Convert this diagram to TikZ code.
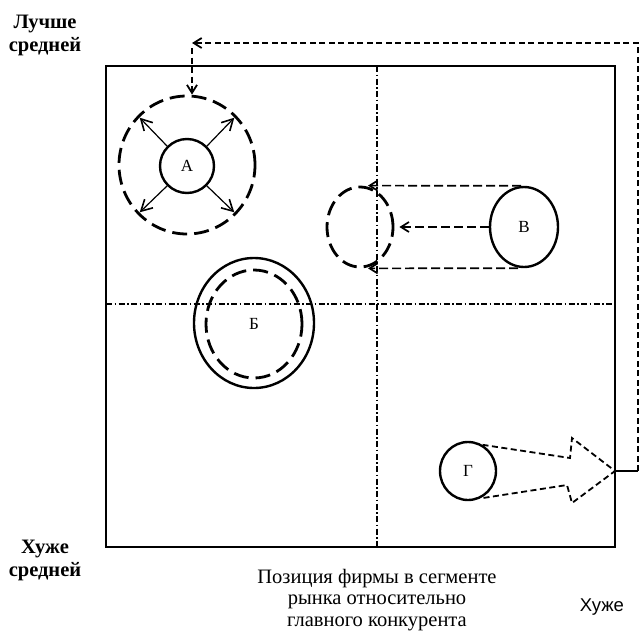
\documentclass[tikz,border=0pt]{standalone}
\usepackage{fontspec}
\setmainfont{Liberation Serif}
\newfontfamily\sansf{Liberation Sans}
\usetikzlibrary{arrows.meta,shapes.geometric}
\begin{document}
\begin{tikzpicture}[x=1pt,y=-1pt,
 frame/.style={line width=2pt},
 axisline/.style={line width=1.2pt, dash pattern=on 6pt off 2.5pt on 1.5pt off 2.5pt},
 solidcirc/.style={draw, line width=2.4pt, ellipse, inner sep=0pt},
 dashcirc/.style={draw, line width=2.8pt, ellipse, inner sep=0pt, dash pattern=on 15pt off 7pt},
 fb/.style={line width=1.8pt, dash pattern=on 6pt off 3.5pt},
 darr/.style={line width=1.7pt, dash pattern=on 9pt off 4pt, -{Straight Barb[length=8pt,width=10pt,line width=1.7pt]}},
 fbarr/.style={fb, -{Straight Barb[length=8pt,width=10pt]}},
 expand/.style={line width=1.2pt, -{Straight Barb[length=11pt,width=12pt,line width=1.6pt]}},
 lbl/.style={font=\fontsize{17}{19}\selectfont},
 corner/.style={font=\bfseries\fontsize{20.5}{23}\selectfont, align=center, inner sep=0pt},
 caption/.style={font=\fontsize{20.5}{21.5}\selectfont, align=center, inner sep=0pt},
 sidelbl/.style={font=\sansf\fontsize{18.5}{20}\selectfont, inner sep=0pt}
]
\useasboundingbox (0,0) rectangle (642,632);
% frame
\coordinate (tl) at (106,66);
\coordinate (br) at (615,547);
\draw[frame] (tl) rectangle (br);
% axes
\coordinate (vt) at (377,66);
\coordinate (vb) at (377,547);
\coordinate (hl) at (106,304);
\coordinate (hr) at (615,304);
\draw[axisline] (vt) -- (vb);
\draw[axisline] (hl) -- (hr);
% A
\node[solidcirc, minimum width=54pt, minimum height=54pt, lbl] (A) at (187,166) {А};
\node[dashcirc, minimum width=136pt, minimum height=138pt] (Aout) at (187,165) {};
\foreach \ang in {45,135,225,315}{
  \draw[expand] (A.\ang) -- ([shift={(\ang:-3pt)}]Aout.\ang);
}
% Б
\node[solidcirc, minimum width=120pt, minimum height=130pt] (Bsolid) at (254,323) {};
\node[dashcirc, minimum width=96pt, minimum height=108pt, lbl] (Bsh) at (254,324) {Б};
% В
\node[solidcirc, minimum width=68pt, minimum height=80pt, lbl] (V) at (524,227) {В};
\node[dashcirc, minimum width=66pt, minimum height=80pt] (Vt) at (360,227) {};
\draw[darr] ([xshift=-3pt]V.north) -- ([xshift=8pt]Vt.north);
\draw[darr] (V.west) -- ([xshift=5pt]Vt.east);
\draw[darr] ([xshift=-6pt]V.south) -- ([xshift=8pt]Vt.south);
% Г
\node[solidcirc, minimum width=56pt, minimum height=58pt, lbl] (G) at (468,471) {Г};
\coordinate (n1) at (570,458);
\coordinate (n2) at (572,438);
\coordinate (gtip) at (615,471);
\coordinate (n3) at (572,503);
\coordinate (n4) at (567,485);
\draw[fb] (G.61) -- (n1) -- (n2) -- (gtip) -- (n3) -- (n4) -- (G.-66);
% feedback loop
\coordinate (f1) at (638,471);
\coordinate (f2) at (638,43);
\coordinate (f3) at (192,43);
\coordinate (f4) at (192,48);
\draw[line width=1.8pt] (gtip) -- (f1);
\draw[fbarr] (f1) -- (f2) -- (f3);
\draw[fbarr] (f4) -- (f4 |- Aout.north);
% texts
\node[corner] (better) at (45,35) {Лучше\\средней};
\node[corner] (worse) at (45,560) {Хуже\\средней};
\node[caption] (cap) at (377,600) {Позиция фирмы в сегменте\\рынка относительно\\главного конкурента};
\node[sidelbl] (worseR) at (602,607) {Хуже};
\end{tikzpicture}
\end{document}
